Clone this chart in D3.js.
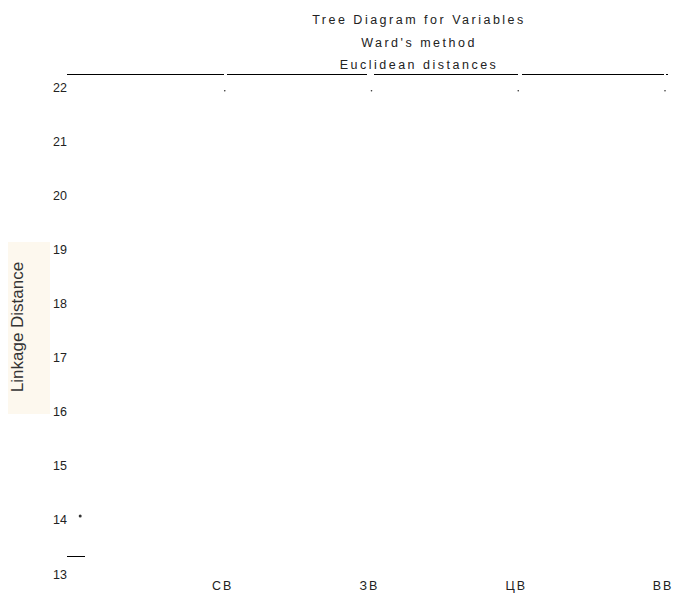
<!DOCTYPE html>
<html><head><meta charset="utf-8">
<script src="https://cdn.jsdelivr.net/npm/d3@7"></script>
<style>body{margin:0;background:#fff}svg{display:block;font-family:"Liberation Sans",Arial,sans-serif}</style>
</head><body>
<script>
// Data
const titleLines = ["Tree Diagram for Variables", "Ward's method", "Euclidean distances"];
const variables = ["СВ", "ЗВ", "ЦВ", "ВВ"];        // leaf positions 1..4
const yTicks = [13, 14, 15, 16, 17, 18, 19, 20, 21, 22];
const yTitle = "Linkage Distance";
// top linkage segments (position units, distance)
const topSegments = [[-0.075, 0.995], [1.015, 1.97], [2.017, 2.998], [3.025, 3.993], [4.005, 4.02]];
const topLevel = 22.24;
// leaf points (position, distance)
const leafPoints = [[1, 21.93], [2, 21.93], [3, 21.93], [4, 21.93], [0.015, 14.07]];
// lower short segment
const lowSegments = [[-0.075, 0.05]];
const lowLevel = 13.33;

const W = 675, H = 596;
const svg = d3.select("body").append("svg").attr("width", W).attr("height", H);

const x = d3.scaleLinear().domain([0, 4]).range([78, 665]);
const y = d3.scaleLinear().domain([13, 22]).range([574, 87]);

// titles
svg.selectAll("text.title").data(titleLines).join("text")
  .attr("class", "title")
  .attr("x", 419).attr("y", (d, i) => 24 + i * 22.5)
  .attr("text-anchor", "middle")
  .attr("font-size", 12.5).attr("letter-spacing", "2.5px")
  .attr("fill", "#222").text(d => d);

// y title background and text
svg.append("rect").attr("x", 8).attr("y", 242).attr("width", 42).attr("height", 172).attr("fill", "#fdf8ee");
svg.append("text").attr("transform", "translate(23,327) rotate(-90)")
  .attr("text-anchor", "middle").attr("font-size", 17).attr("fill", "#333").text(yTitle);

// y axis tick labels
const yAxis = d3.axisLeft(y).tickValues(yTicks).tickSize(0).tickPadding(0).tickFormat(d3.format("d"));
const ga = svg.append("g").attr("transform", "translate(67,0)").call(yAxis);
ga.select(".domain").remove();
ga.selectAll("text").attr("font-size", 12.5).attr("font-family", "Liberation Sans, Arial, sans-serif").attr("fill", "#222");

// top segments
svg.selectAll("line.top").data(topSegments).join("line")
  .attr("x1", d => x(d[0])).attr("x2", d => x(d[1]))
  .attr("y1", Math.round(y(topLevel)) + 0.5).attr("y2", Math.round(y(topLevel)) + 0.5)
  .attr("stroke", "#000").attr("stroke-width", 1).attr("shape-rendering", "crispEdges");

svg.selectAll("line.low").data(lowSegments).join("line")
  .attr("x1", d => x(d[0])).attr("x2", d => x(d[1]))
  .attr("y1", Math.round(y(lowLevel)) + 0.5).attr("y2", Math.round(y(lowLevel)) + 0.5)
  .attr("stroke", "#000").attr("stroke-width", 1).attr("shape-rendering", "crispEdges");

// points
svg.selectAll("circle.pt").data(leafPoints).join("circle")
  .attr("cx", d => x(d[0])).attr("cy", d => y(d[1]))
  .attr("r", (d, i) => i === 4 ? 1.5 : 0.8).attr("fill", "#333");

// variable labels
svg.selectAll("text.var").data(variables).join("text")
  .attr("x", (d, i) => x(i + 1) - 2).attr("y", 590)
  .attr("text-anchor", "middle").attr("font-size", 12.5).attr("letter-spacing", "2px")
  .attr("fill", "#222").text(d => d);
</script>
</body></html>
